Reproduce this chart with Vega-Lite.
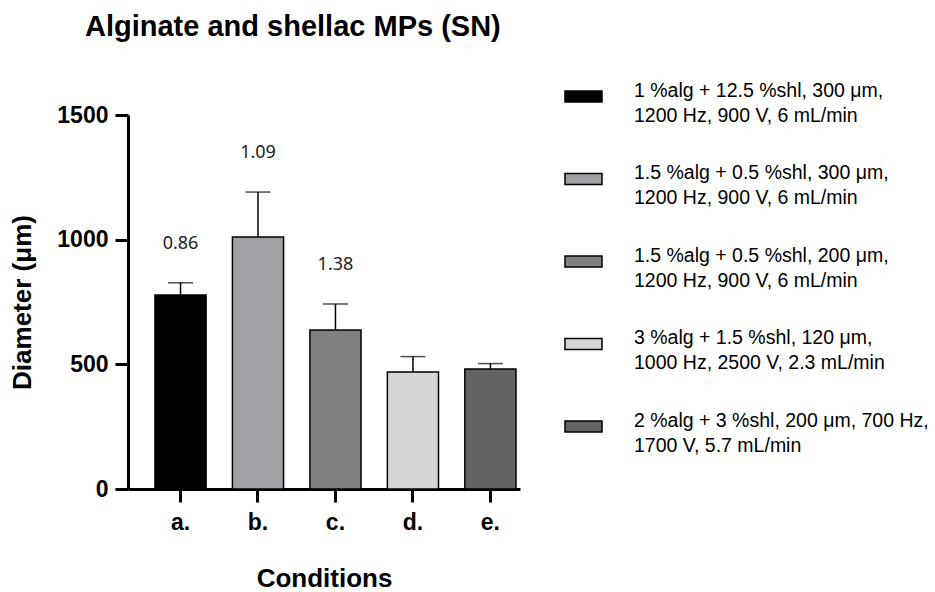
{
  "$schema": "https://vega.github.io/schema/vega-lite/v6.json",
  "width": 392,
  "height": 374,
  "autosize": {"type": "none"},
  "padding": {"left": 128, "top": 115, "right": 415, "bottom": 103},
  "background": "white",
  "title": {
    "text": "Alginate and shellac MPs (SN)",
    "anchor": "start",
    "frame": "group",
    "dx": -43,
    "offset": 12,
    "baseline": "alphabetic",
    "font": "Liberation Sans",
    "fontSize": 29,
    "fontWeight": "bold",
    "color": "black"
  },
  "data": {
    "values": [
      {"cond": "a.", "desc": "1 %alg + 12.5 %shl, 300 μm,\n1200 Hz, 900 V, 6 mL/min", "mean": 778, "upper": 827, "pdi": "0.86"},
      {"cond": "b.", "desc": "1.5 %alg + 0.5 %shl, 300 μm,\n1200 Hz, 900 V, 6 mL/min", "mean": 1011, "upper": 1191, "pdi": "1.09"},
      {"cond": "c.", "desc": "1.5 %alg + 0.5 %shl, 200 μm,\n1200 Hz, 900 V, 6 mL/min", "mean": 638, "upper": 742, "pdi": "1.38"},
      {"cond": "d.", "desc": "3 %alg + 1.5 %shl, 120 μm,\n1000 Hz, 2500 V, 2.3 mL/min", "mean": 469, "upper": 531, "pdi": null},
      {"cond": "e.", "desc": "2 %alg + 3 %shl, 200 μm, 700 Hz,\n1700 V, 5.7 mL/min", "mean": 481, "upper": 503, "pdi": null}
    ]
  },
  "encoding": {
    "x": {
      "field": "cond",
      "type": "nominal",
      "sort": null,
      "scale": {"paddingInner": 0.34, "paddingOuter": 0.2, "align": 0.87},
      "axis": {
        "title": "Conditions",
        "labelAngle": 0,
        "labelFont": "Liberation Sans",
        "labelFontSize": 23,
        "labelFontWeight": "bold",
        "labelColor": "black",
        "labelPadding": 9,
        "tickSize": 13,
        "tickWidth": 3,
        "tickColor": "black",
        "domainWidth": 3,
        "domainColor": "black",
        "titleFont": "Liberation Sans",
        "titleFontSize": 26,
        "titleFontWeight": "bold",
        "titleColor": "black",
        "titlePadding": 31
      }
    }
  },
  "layer": [
    {
      "mark": {"type": "bar", "stroke": "black", "strokeWidth": 1.5},
      "encoding": {
        "y": {
          "field": "mean",
          "type": "quantitative",
          "scale": {"domain": [0, 1500], "nice": false},
          "axis": {
            "title": "Diameter (μm)",
            "values": [0, 500, 1000, 1500],
            "format": "d",
            "grid": false,
            "labelFont": "Liberation Sans",
            "labelFontSize": 23,
            "labelFontWeight": "bold",
            "labelColor": "black",
            "labelPadding": 7,
            "tickSize": 13,
            "tickWidth": 3,
            "tickColor": "black",
            "domainWidth": 3,
            "domainColor": "black",
            "titleFont": "Liberation Sans",
            "titleFontSize": 26,
            "titleFontWeight": "bold",
            "titleColor": "black",
            "titlePadding": 21
          }
        },
        "color": {
          "field": "desc",
          "type": "nominal",
          "sort": null,
          "scale": {"range": ["#000000", "#a1a0a5", "#818181", "#d5d5d5", "#636363"]},
          "legend": {
            "title": null,
            "orient": "none",
            "legendX": 436,
            "legendY": -38,
            "symbolType": "M-1,-0.3H1V0.3H-1Z",
            "symbolSize": 1369,
            "symbolStrokeColor": "black",
            "symbolStrokeWidth": 1.5,
            "symbolOpacity": 1,
            "labelExpr": "split(datum.label, '\\n')",
            "labelFont": "Liberation Sans",
            "labelFontSize": 19.5,
            "labelColor": "black",
            "labelBaseline": "alphabetic",
            "labelLimit": 400,
            "labelOffset": 31,
            "rowPadding": 34.5
          }
        }
      }
    },
    {
      "mark": {"type": "rule", "color": "black", "strokeWidth": 1.5},
      "encoding": {
        "y": {"field": "mean", "type": "quantitative"},
        "y2": {"field": "upper"}
      }
    },
    {
      "mark": {"type": "tick", "color": "black", "thickness": 1.5, "size": 25, "orient": "horizontal"},
      "encoding": {
        "y": {"field": "upper", "type": "quantitative"}
      }
    },
    {
      "transform": [{"filter": "datum.pdi != null"}],
      "mark": {"type": "text", "font": "Noto Sans", "fontSize": 18, "color": "#222222", "baseline": "middle", "dy": -39},
      "encoding": {
        "y": {"field": "upper", "type": "quantitative"},
        "text": {"field": "pdi", "type": "nominal"}
      }
    }
  ],
  "config": {
    "view": {"stroke": null},
    "style": {"guide-label": {"lineHeight": 25}}
  }
}
